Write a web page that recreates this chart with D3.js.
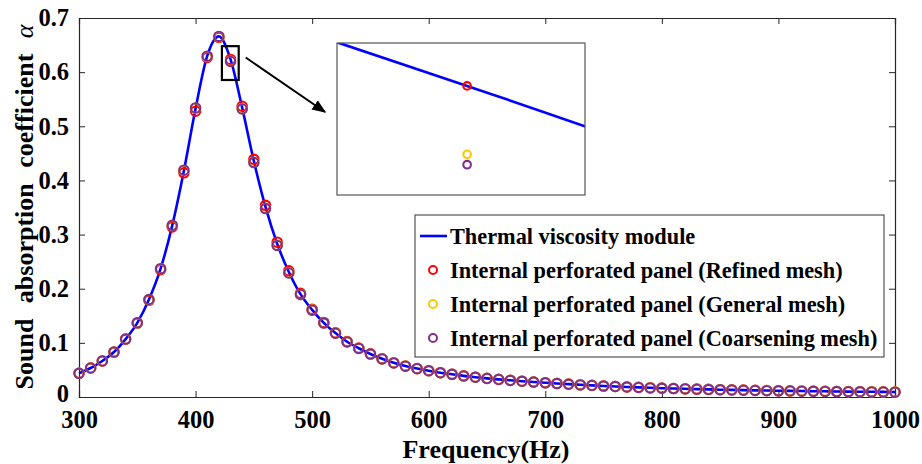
<!DOCTYPE html>
<html>
<head>
<meta charset="utf-8">
<script src="https://cdn.jsdelivr.net/npm/d3@7"></script>
<style>
  body { margin: 0; background: #fff; }
  text { font-family: "Liberation Serif", "Times New Roman", serif; font-weight: bold; fill: #000; }
</style>
</head>
<body>
<div id="chart"></div>
<script>
// Frequency grid (Hz)
const freq = [300, 310, 320, 330, 340, 350, 360, 370, 380, 390,
  400, 410, 420, 430, 440, 450, 460, 470, 480, 490,
  500, 510, 520, 530, 540, 550, 560, 570, 580, 590,
  600, 610, 620, 630, 640, 650, 660, 670, 680, 690,
  700, 710, 720, 730, 740, 750, 760, 770, 780, 790,
  800, 810, 820, 830, 840, 850, 860, 870, 880, 890,
  900, 910, 920, 930, 940, 950, 960, 970, 980, 990, 1000];

// Thermal viscosity module (line)
const thermal = [0.0437, 0.0536, 0.0665, 0.0830, 0.1070, 0.1370, 0.1800, 0.2370, 0.3170, 0.4180,
  0.5330, 0.6300, 0.6660, 0.6235, 0.5340, 0.4360, 0.3510, 0.2830, 0.2310, 0.1900,
  0.1610, 0.1370, 0.1180, 0.1020, 0.0900, 0.0795, 0.0705, 0.0632, 0.0572, 0.0525,
  0.0486, 0.0449, 0.0420, 0.0390, 0.0366, 0.0344, 0.0325, 0.0308, 0.0292, 0.0277,
  0.0264, 0.0250, 0.0237, 0.0225, 0.0214, 0.0204, 0.0195, 0.0186, 0.0178, 0.0170,
  0.0163, 0.0157, 0.0151, 0.0145, 0.0140, 0.0135, 0.0131, 0.0127, 0.0123, 0.0119,
  0.0116, 0.0113, 0.0110, 0.0107, 0.0105, 0.0102, 0.0100, 0.0098, 0.0096, 0.0094, 0.0092];

// Internal perforated panel, refined mesh
const refined = [0.0437, 0.0535, 0.0664, 0.0828, 0.1066, 0.1365, 0.1785, 0.2350, 0.3140, 0.4140,
  0.5280, 0.6270, 0.6640, 0.6235, 0.5370, 0.4390, 0.3540, 0.2860, 0.2330, 0.1915,
  0.1620, 0.1378, 0.1185, 0.1024, 0.0903, 0.0797, 0.0707, 0.0633, 0.0573, 0.0526,
  0.0487, 0.0450, 0.0421, 0.0391, 0.0367, 0.0345, 0.0326, 0.0309, 0.0293, 0.0278,
  0.0265, 0.0251, 0.0238, 0.0226, 0.0215, 0.0205, 0.0196, 0.0187, 0.0179, 0.0171,
  0.0164, 0.0158, 0.0152, 0.0146, 0.0141, 0.0136, 0.0132, 0.0128, 0.0124, 0.0120,
  0.0117, 0.0114, 0.0111, 0.0108, 0.0106, 0.0103, 0.0101, 0.0099, 0.0097, 0.0095, 0.0093];

// Internal perforated panel, general mesh
const general = [0.0437, 0.0536, 0.0665, 0.0830, 0.1069, 0.1369, 0.1798, 0.2368, 0.3167, 0.4185,
  0.5335, 0.6290, 0.6655, 0.6202, 0.5322, 0.4335, 0.3485, 0.2805, 0.2295, 0.1895,
  0.1605, 0.1366, 0.1178, 0.1018, 0.0899, 0.0794, 0.0704, 0.0631, 0.0571, 0.0524,
  0.0485, 0.0448, 0.0419, 0.0389, 0.0365, 0.0343, 0.0324, 0.0307, 0.0291, 0.0276,
  0.0263, 0.0249, 0.0236, 0.0224, 0.0213, 0.0203, 0.0194, 0.0185, 0.0177, 0.0169,
  0.0162, 0.0156, 0.0150, 0.0144, 0.0139, 0.0134, 0.0130, 0.0126, 0.0122, 0.0118,
  0.0115, 0.0112, 0.0109, 0.0106, 0.0104, 0.0101, 0.0099, 0.0097, 0.0095, 0.0093, 0.0091];

// Internal perforated panel, coarsening mesh
const coarse = [0.0437, 0.0536, 0.0665, 0.0830, 0.1070, 0.1370, 0.1800, 0.2370, 0.3170, 0.4190,
  0.5340, 0.6295, 0.6660, 0.6197, 0.5320, 0.4330, 0.3480, 0.2800, 0.2290, 0.1893,
  0.1604, 0.1365, 0.1177, 0.1017, 0.0898, 0.0793, 0.0703, 0.0630, 0.0570, 0.0523,
  0.0484, 0.0447, 0.0418, 0.0388, 0.0364, 0.0342, 0.0323, 0.0306, 0.0290, 0.0275,
  0.0262, 0.0248, 0.0235, 0.0223, 0.0212, 0.0202, 0.0193, 0.0184, 0.0176, 0.0168,
  0.0161, 0.0155, 0.0149, 0.0143, 0.0138, 0.0133, 0.0129, 0.0125, 0.0121, 0.0117,
  0.0114, 0.0111, 0.0108, 0.0105, 0.0103, 0.0100, 0.0098, 0.0096, 0.0094, 0.0092, 0.0090];

const xTicks = [300, 400, 500, 600, 700, 800, 900, 1000];
const yTicks = [0, 0.1, 0.2, 0.3, 0.4, 0.5, 0.6, 0.7];

// zoomed region: box in main plot, and the inset's own view
const zoomBoxX = [422.6, 437.0];
const zoomBoxY = [0.5855, 0.648];
const insetX = [429.68, 430.29];
const insetY = [0.61824, 0.62557];

const legendLabels = ['Thermal viscosity module',
  'Internal perforated panel (Refined mesh)',
  'Internal perforated panel (General mesh)',
  'Internal perforated panel (Coarsening mesh)'];

const width = 922, height = 464;
const margin = { top: 18, right: 27, bottom: 67, left: 79 };
const iw = width - margin.left - margin.right;
const ih = height - margin.top - margin.bottom;

const blue = '#0000ff';
const markerSeries = [
  { values: refined, color: '#ff0000' },
  { values: general, color: '#ffc800' },
  { values: coarse, color: '#7e2f8e' }
];

const svg = d3.select('#chart').append('svg')
  .attr('width', width)
  .attr('height', height);

const g = svg.append('g').attr('transform', `translate(${margin.left},${margin.top})`);

const x = d3.scaleLinear().domain([300, 1000]).range([0, iw]);
const y = d3.scaleLinear().domain([0, 0.7]).range([ih, 0]);

const pts = arr => freq.map((f, i) => [f, arr[i]]);

// axes box + ticks (MATLAB style, inward)
const axisColor = '#262626';
const tickLen = 6;
g.append('g').attr('transform', `translate(0,${ih})`)
  .call(d3.axisBottom(x).tickValues(xTicks).tickSize(-tickLen).tickPadding(14).tickFormat(d3.format('d')));
const yAx = g.append('g')
  .call(d3.axisLeft(y).tickValues(yTicks).tickSize(-tickLen).tickPadding(10)
    .tickFormat(d => d === 0 ? '0' : d3.format('.1f')(d)));
// lift the "0" label a touch so it clears the "300" below
yAx.selectAll('.tick text').filter(d => d === 0).attr('dy', '0.2em');
g.append('g').call(d3.axisTop(x).tickValues(xTicks).tickSize(-tickLen).tickFormat(''));
g.append('g').attr('transform', `translate(${iw},0)`)
  .call(d3.axisRight(y).tickValues(yTicks).tickSize(-tickLen).tickFormat(''));
g.selectAll('.domain').attr('stroke', axisColor).attr('stroke-width', 1.2);
g.selectAll('.tick line').attr('stroke', axisColor);
g.selectAll('.tick text').style('font-size', '24.5px').attr('fill', '#000');

// line
const line = d3.line().x(d => x(d[0])).y(d => y(d[1])).curve(d3.curveMonotoneX);
g.append('path')
  .datum(pts(thermal))
  .attr('d', line)
  .attr('fill', 'none')
  .attr('stroke', blue)
  .attr('stroke-width', 2.6);

// markers
markerSeries.forEach(s => {
  g.append('g').selectAll('circle')
    .data(pts(s.values))
    .enter().append('circle')
    .attr('cx', d => x(d[0]))
    .attr('cy', d => y(d[1]))
    .attr('r', 4.7)
    .attr('fill', 'none')
    .attr('stroke', s.color)
    .attr('stroke-width', 2.1);
});

// zoom rectangle
g.append('rect')
  .attr('x', x(zoomBoxX[0]))
  .attr('y', y(zoomBoxY[1]))
  .attr('width', x(zoomBoxX[1]) - x(zoomBoxX[0]))
  .attr('height', y(zoomBoxY[0]) - y(zoomBoxY[1]))
  .attr('fill', 'none')
  .attr('stroke', '#000')
  .attr('stroke-width', 2.2);

// inset
const inset = { x: 258, y: 25, w: 248, h: 152 };
const ix = d3.scaleLinear().domain(insetX).range([0, inset.w]);
const iy = d3.scaleLinear().domain(insetY).range([inset.h, 0]);
const ig = g.append('g').attr('transform', `translate(${inset.x},${inset.y})`);
ig.append('rect').attr('width', inset.w).attr('height', inset.h).attr('fill', '#fff');
svg.append('defs').append('clipPath').attr('id', 'inset-clip')
  .append('rect').attr('width', inset.w).attr('height', inset.h);
const ic = ig.append('g').attr('clip-path', 'url(#inset-clip)');
ic.append('path')
  .datum(pts(thermal))
  .attr('d', d3.line().x(d => ix(d[0])).y(d => iy(d[1])).curve(d3.curveMonotoneX))
  .attr('fill', 'none')
  .attr('stroke', blue)
  .attr('stroke-width', 2.6);
markerSeries.forEach(s => {
  ic.append('g').selectAll('circle')
    .data(pts(s.values).filter(d => d[0] >= insetX[0] && d[0] <= insetX[1]))
    .enter().append('circle')
    .attr('cx', d => ix(d[0]))
    .attr('cy', d => iy(d[1]))
    .attr('r', 3.8)
    .attr('fill', 'none')
    .attr('stroke', s.color)
    .attr('stroke-width', 2.1);
});
ig.append('rect').attr('width', inset.w).attr('height', inset.h)
  .attr('fill', 'none').attr('stroke', '#555').attr('stroke-width', 1.2);

// arrow from box to inset
svg.append('defs').append('marker')
  .attr('id', 'arrowhead')
  .attr('viewBox', '0 0 10 10')
  .attr('refX', 9).attr('refY', 5)
  .attr('markerWidth', 7).attr('markerHeight', 7)
  .attr('orient', 'auto')
  .append('path').attr('d', 'M0,1L10,5L0,9Z').attr('fill', '#000');
g.append('line')
  .attr('x1', x(zoomBoxX[1]) + 7)
  .attr('y1', y(0.627))
  .attr('x2', inset.x - 12)
  .attr('y2', inset.y + 69)
  .attr('stroke', '#000')
  .attr('stroke-width', 2)
  .attr('marker-end', 'url(#arrowhead)');

// legend
const lg = g.append('g').attr('transform', `translate(${336},${197})`);
lg.append('rect').attr('width', 469).attr('height', 142)
  .attr('fill', '#fff').attr('stroke', '#333').attr('stroke-width', 1);
legendLabels.forEach((lab, i) => {
  const cy = 21 + i * 34;
  if (i === 0) {
    lg.append('line').attr('x1', 5).attr('x2', 32).attr('y1', cy).attr('y2', cy)
      .attr('stroke', blue).attr('stroke-width', 2.6);
  } else {
    lg.append('circle').attr('cx', 18).attr('cy', cy).attr('r', 4)
      .attr('fill', 'none').attr('stroke', markerSeries[i - 1].color).attr('stroke-width', 2);
  }
  lg.append('text').attr('x', 35).attr('y', cy).attr('dy', '0.35em')
    .style('font-size', '22.3px').text(lab);
});

// axis titles
svg.append('text')
  .attr('x', margin.left + iw / 2 - 1)
  .attr('y', 458)
  .attr('text-anchor', 'middle')
  .style('font-size', '26px')
  .text('Frequency(Hz)');

const yl = svg.append('text')
  .attr('transform', `translate(33,${207}) rotate(-90)`)
  .attr('text-anchor', 'middle')
  .style('font-size', '26px')
  .attr('word-spacing', '9px');
yl.append('tspan').text('Sound absorption coefficient ');
yl.append('tspan').style('font-style', 'italic').style('font-weight', 'normal').text('α');
</script>
</body>
</html>
